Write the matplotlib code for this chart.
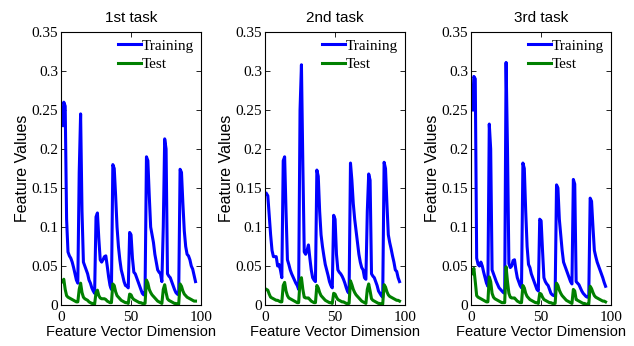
import numpy as np
import matplotlib
matplotlib.use('Agg')
import matplotlib.pyplot as plt
from matplotlib.ticker import FormatStrFormatter

# feature vector index (8 blocks of 12)
dims = np.arange(1, 97)

titles = ['1st task', '2nd task', '3rd task']

train_1 = [
    0.23, 0.26, 0.255, 0.11, 0.068, 0.063, 0.06, 0.055, 0.048, 0.04, 0.032, 0.028,
    0.17, 0.245, 0.12, 0.055, 0.05, 0.045, 0.04, 0.032, 0.028, 0.022, 0.018, 0.015,
    0.113, 0.118, 0.085, 0.058, 0.055, 0.058, 0.062, 0.063, 0.05, 0.036, 0.025, 0.02,
    0.18, 0.175, 0.14, 0.1, 0.075, 0.058, 0.045, 0.038, 0.03, 0.025, 0.024, 0.022,
    0.093, 0.09, 0.06, 0.042, 0.04, 0.035, 0.03, 0.025, 0.02, 0.015, 0.013, 0.018,
    0.19, 0.185, 0.14, 0.10, 0.09, 0.08, 0.065, 0.055, 0.045, 0.042, 0.04, 0.03,
    0.10, 0.213, 0.20, 0.04, 0.037, 0.035, 0.03, 0.025, 0.02, 0.016, 0.014, 0.013,
    0.174, 0.17, 0.13, 0.095, 0.075, 0.065, 0.063, 0.058, 0.05, 0.046, 0.038, 0.03]
test_1 = [
    0.03, 0.033, 0.02, 0.012, 0.01, 0.009, 0.008, 0.007, 0.006, 0.005, 0.004, 0.004,
    0.02, 0.028, 0.016, 0.01, 0.008, 0.007, 0.006, 0.004, 0.003, 0.002, 0.002, 0.001,
    0.016, 0.019, 0.012, 0.009, 0.008, 0.008, 0.008, 0.007, 0.005, 0.004, 0.003, 0.003,
    0.027, 0.025, 0.017, 0.012, 0.01, 0.008, 0.006, 0.005, 0.004, 0.003, 0.003, 0.002,
    0.014, 0.013, 0.009, 0.007, 0.006, 0.005, 0.004, 0.003, 0.003, 0.002, 0.002, 0.002,
    0.032, 0.028, 0.02, 0.016, 0.013, 0.011, 0.009, 0.007, 0.005, 0.004, 0.003, 0.002,
    0.02, 0.026, 0.016, 0.008, 0.006, 0.005, 0.004, 0.003, 0.002, 0.002, 0.001, 0.001,
    0.027, 0.024, 0.018, 0.014, 0.012, 0.01, 0.009, 0.008, 0.007, 0.006, 0.005, 0.005]

train_2 = [
    0.143, 0.14, 0.115, 0.09, 0.07, 0.062, 0.062, 0.062, 0.05, 0.052, 0.045, 0.035,
    0.185, 0.19, 0.12, 0.058, 0.052, 0.045, 0.04, 0.036, 0.032, 0.028, 0.025, 0.02,
    0.25, 0.308, 0.18, 0.068, 0.065, 0.07, 0.077, 0.06, 0.045, 0.035, 0.032, 0.03,
    0.173, 0.165, 0.12, 0.09, 0.075, 0.063, 0.052, 0.045, 0.038, 0.03, 0.025, 0.022,
    0.115, 0.11, 0.065, 0.045, 0.042, 0.04, 0.037, 0.033, 0.028, 0.022, 0.017, 0.015,
    0.182, 0.16, 0.13, 0.11, 0.095, 0.08, 0.065, 0.055, 0.048, 0.045, 0.035, 0.033,
    0.12, 0.168, 0.16, 0.04, 0.037, 0.035, 0.03, 0.025, 0.018, 0.015, 0.012, 0.01,
    0.183, 0.175, 0.13, 0.09, 0.08, 0.072, 0.063, 0.055, 0.045, 0.043, 0.035, 0.03]
test_2 = [
    0.02, 0.019, 0.014, 0.01, 0.009, 0.008, 0.007, 0.006, 0.006, 0.005, 0.004, 0.004,
    0.025, 0.029, 0.018, 0.012, 0.009, 0.008, 0.007, 0.006, 0.005, 0.004, 0.003, 0.003,
    0.03, 0.035, 0.02, 0.01, 0.009, 0.009, 0.009, 0.007, 0.005, 0.004, 0.003, 0.003,
    0.025, 0.022, 0.016, 0.012, 0.01, 0.008, 0.006, 0.005, 0.004, 0.003, 0.003, 0.002,
    0.015, 0.014, 0.01, 0.007, 0.006, 0.005, 0.004, 0.004, 0.003, 0.002, 0.002, 0.002,
    0.031, 0.026, 0.02, 0.016, 0.013, 0.011, 0.009, 0.007, 0.005, 0.004, 0.003, 0.002,
    0.02, 0.027, 0.018, 0.008, 0.006, 0.005, 0.004, 0.003, 0.002, 0.002, 0.001, 0.001,
    0.026, 0.023, 0.017, 0.013, 0.011, 0.01, 0.009, 0.008, 0.007, 0.006, 0.006, 0.005]

train_3 = [
    0.25, 0.293, 0.29, 0.06, 0.052, 0.05, 0.055, 0.05, 0.042, 0.035, 0.028, 0.024,
    0.232, 0.2, 0.045, 0.04, 0.035, 0.03, 0.026, 0.022, 0.02, 0.018, 0.016, 0.015,
    0.311, 0.2, 0.053, 0.048, 0.05, 0.057, 0.058, 0.045, 0.035, 0.03, 0.025, 0.022,
    0.182, 0.175, 0.12, 0.075, 0.052, 0.048, 0.04, 0.035, 0.03, 0.025, 0.02, 0.018,
    0.11, 0.108, 0.07, 0.035, 0.03, 0.027, 0.025, 0.02, 0.015, 0.013, 0.012, 0.012,
    0.154, 0.15, 0.11, 0.09, 0.07, 0.055, 0.05, 0.045, 0.04, 0.035, 0.03, 0.027,
    0.161, 0.155, 0.03, 0.028, 0.026, 0.022, 0.018, 0.015, 0.013, 0.011, 0.01, 0.01,
    0.137, 0.133, 0.1, 0.07, 0.062, 0.055, 0.05, 0.045, 0.04, 0.035, 0.029, 0.024]
test_3 = [
    0.04, 0.047, 0.03, 0.012, 0.01, 0.009, 0.008, 0.007, 0.006, 0.005, 0.004, 0.004,
    0.036, 0.03, 0.015, 0.01, 0.008, 0.007, 0.006, 0.005, 0.004, 0.003, 0.003, 0.003,
    0.049, 0.03, 0.015, 0.01, 0.009, 0.009, 0.009, 0.007, 0.005, 0.004, 0.003, 0.003,
    0.025, 0.022, 0.015, 0.011, 0.009, 0.007, 0.006, 0.005, 0.004, 0.003, 0.003, 0.002,
    0.015, 0.014, 0.01, 0.007, 0.006, 0.005, 0.004, 0.003, 0.003, 0.002, 0.002, 0.002,
    0.028, 0.025, 0.019, 0.015, 0.012, 0.01, 0.008, 0.006, 0.005, 0.004, 0.003, 0.002,
    0.02, 0.018, 0.007, 0.006, 0.005, 0.004, 0.003, 0.002, 0.002, 0.001, 0.001, 0.001,
    0.024, 0.021, 0.016, 0.012, 0.01, 0.009, 0.008, 0.007, 0.006, 0.005, 0.005, 0.004]

train_sets = [train_1, train_2, train_3]
test_sets = [test_1, test_2, test_3]

serif = 'Liberation Serif'
sans = 'Liberation Sans'

fig = plt.figure(figsize=(6.34, 3.46), dpi=100)
lefts = [0.0962, 0.418, 0.743]

for i in range(3):
    ax = fig.add_axes([lefts[i], 0.1185, 0.221, 0.789])
    ax.plot(dims, train_sets[i], color='#0000ff', lw=2.2, label='Training')
    ax.plot(dims, test_sets[i], color='#008000', lw=2.2, label='Test')
    ax.set_xlim(0, 100)
    ax.set_ylim(0, 0.35)
    ax.set_xticks([0, 50, 100])
    ax.set_yticks(np.arange(0, 0.351, 0.05))
    ax.yaxis.set_major_formatter(FormatStrFormatter('%g'))
    ax.tick_params(direction='in', top=True, right=True, length=3.5, width=0.6,
                   labelsize=11)
    ax.tick_params(axis='x', pad=4)
    ax.tick_params(axis='y', pad=2)
    for lab in ax.get_xticklabels() + ax.get_yticklabels():
        lab.set_fontfamily(serif)
    for s in ax.spines.values():
        s.set_linewidth(0.8)
    ax.set_title(titles[i], fontsize=11, family=sans, pad=7)
    ax.set_xlabel('Feature Vector Dimension', fontsize=10.5, family=sans, labelpad=1)
    ax.set_ylabel('Feature Values', fontsize=11.5, family=sans, labelpad=1)
    ax.legend(loc='upper right', frameon=False, prop={'family': serif, 'size': 11},
              handlelength=1.5, handletextpad=0.1, labelspacing=0.3,
              borderaxespad=0.35, borderpad=0.1)

fig.savefig('out.png', dpi=100)
